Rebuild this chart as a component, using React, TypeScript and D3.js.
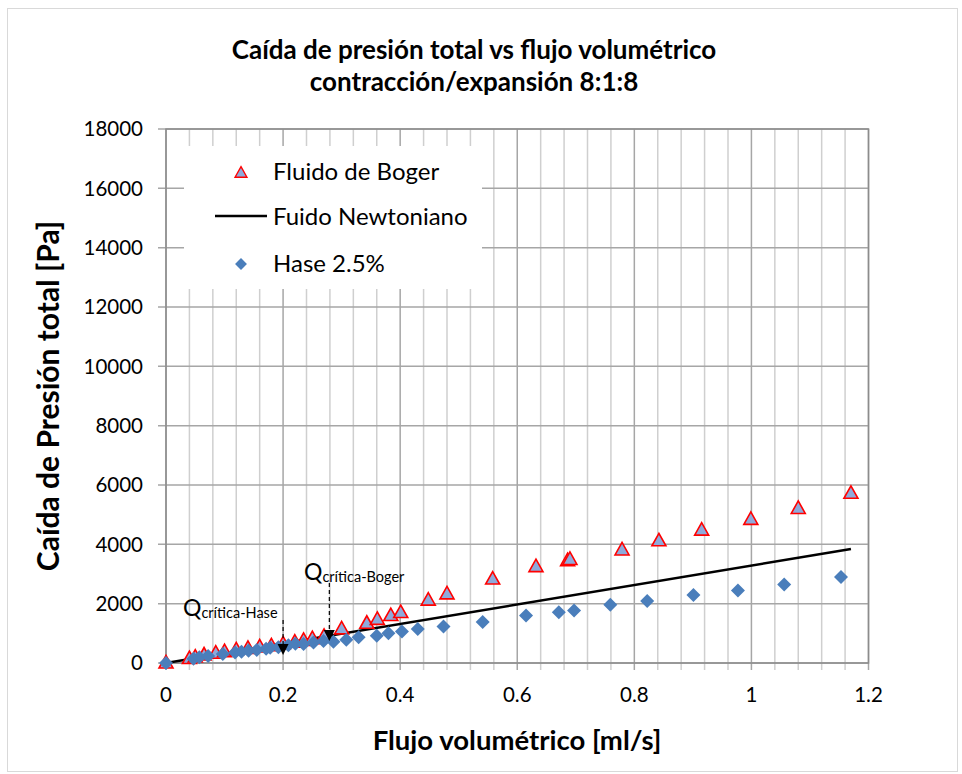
import * as d3 from "d3";

// data
const bogerX = [0, 0.04, 0.05, 0.065, 0.085, 0.1, 0.12, 0.14, 0.16, 0.18, 0.2, 0.22, 0.235, 0.25, 0.27, 0.3, 0.343, 0.361, 0.384, 0.401, 0.448, 0.48, 0.558, 0.632, 0.686, 0.69, 0.779, 0.842, 0.915, 0.999, 1.08, 1.17];
const bogerY = [0, 150, 200, 270, 330, 380, 440, 490, 540, 580, 640, 700, 760, 820, 900, 1150, 1340, 1470, 1600, 1700, 2120, 2330, 2830, 3250, 3450, 3490, 3810, 4120, 4480, 4840, 5210, 5720];

const haseX = [0, 0.047, 0.057, 0.072, 0.097, 0.118, 0.129, 0.141, 0.155, 0.171, 0.178, 0.192, 0.209, 0.221, 0.235, 0.252, 0.269, 0.286, 0.308, 0.329, 0.36, 0.38, 0.403, 0.43, 0.474, 0.541, 0.615, 0.671, 0.697, 0.759, 0.822, 0.901, 0.977, 1.056, 1.153];
const haseY = [0, 140, 190, 240, 300, 350, 380, 410, 440, 480, 510, 530, 600, 650, 640, 690, 740, 720, 780, 870, 920, 1000, 1060, 1150, 1230, 1380, 1600, 1710, 1770, 1960, 2090, 2290, 2440, 2650, 2900];

const newtonX = [0, 1.17];
const newtonY = [0, 3845];

const xTicks = [0, 0.2, 0.4, 0.6, 0.8, 1, 1.2];
const yTicks = [0, 2000, 4000, 6000, 8000, 10000, 12000, 14000, 16000, 18000];

const criticalQ = [
  { name: "Hase", x: 0.2 },
  { name: "Boger", x: 0.279 },
];

const FONT = "Lato, 'Open Sans', sans-serif";

// marker shapes, relative to the point
const TRI = "M0,-7.5L7,5L-7,5Z";
const DIA = "M0,-7L7,0L0,7L-7,0Z";

export default function App() {
  const W = 962;
  const H = 774;
  const m = { left: 166, right: 868.5, top: 129, bottom: 663 };

  const x = d3.scaleLinear().domain([0, 1.2]).range([m.left, m.right]);
  const y = d3.scaleLinear().domain([0, 18000]).range([m.bottom, m.top]);

  const minorX = d3.range(0, 31).map((i) => i * 0.04);

  const line = d3
    .line<number>()
    .x((_, i) => x(newtonX[i]))
    .y((d) => y(d));

  // legend box
  const lg = { x: 184, y: 146, w: 298, h: 143 };

  return (
    <svg
      width={W}
      height={H}
      style={{ position: "absolute", left: 0, top: 0, background: "#fff" }}
      fontFamily={FONT}
    >
      <rect x={7.5} y={8.5} width={950} height={763} fill="#fff" stroke="#d9d9d9" />

      {/* Title */}
      <text x={474} y={59} textAnchor="middle" fontSize={26} fontWeight="bold">
        Caída de presión total vs flujo volumétrico
      </text>
      <text x={474} y={91} textAnchor="middle" fontSize={26} fontWeight="bold">
        contracción/expansión 8:1:8
      </text>

      {/* Grid */}
      {minorX.map((v, i) => (
        <line
          key={"vx" + i}
          x1={x(v)}
          x2={x(v)}
          y1={m.top}
          y2={m.bottom + 7}
          stroke={i % 5 === 0 ? "#a6a6a6" : "#cfcfcf"}
          strokeWidth={1.5}
        />
      ))}
      {yTicks.map((t) => (
        <line
          key={"hy" + t}
          x1={m.left - 8}
          x2={m.right}
          y1={y(t)}
          y2={y(t)}
          stroke="#a6a6a6"
          strokeWidth={1.5}
        />
      ))}
      <rect
        x={m.left}
        y={m.top}
        width={m.right - m.left}
        height={m.bottom - m.top}
        fill="none"
        stroke="#8c8c8c"
        strokeWidth={1.5}
      />

      {/* Tick labels */}
      {yTicks.map((t) => (
        <text key={"yl" + t} x={143} y={y(t)} dy="0.35em" textAnchor="end" fontSize={20.5}>
          {t}
        </text>
      ))}
      {xTicks.map((t) => (
        <text key={"xl" + t} x={x(t)} y={695} dy="0.35em" textAnchor="middle" fontSize={20.5}>
          {t}
        </text>
      ))}

      {/* Axis titles */}
      <text
        transform={`translate(48,396) rotate(-90)`}
        textAnchor="middle"
        dy="0.35em"
        fontSize={30}
        fontWeight="bold"
      >
        Caída de Presión total [Pa]
      </text>
      <text x={517} y={740} dy="0.35em" textAnchor="middle" fontSize={27.5} fontWeight="bold">
        Flujo volumétrico [ml/s]
      </text>

      {/* Legend */}
      <rect x={lg.x} y={lg.y} width={lg.w} height={lg.h} fill="#fff" />
      <path d={TRI} transform="translate(241,173) scale(0.85)" fill="#8eaadb" stroke="#ff0000" strokeWidth={1.6} />
      <text x={273} y={172} dy="0.35em" fontSize={24}>Fluido de Boger</text>
      <line x1={215} x2={267} y1={216} y2={216} stroke="#000" strokeWidth={2.5} />
      <text x={273} y={217} dy="0.35em" fontSize={24}>Fuido Newtoniano</text>
      <path d={DIA} transform="translate(241,264) scale(0.85)" fill="#4a7ebb" />
      <text x={273} y={264} dy="0.35em" fontSize={24}>Hase 2.5%</text>

      {/* Newtonian line */}
      <path d={line(newtonY) ?? ""} fill="none" stroke="#000" strokeWidth={2.5} />

      {/* Boger */}
      {bogerX.map((v, i) => (
        <path
          key={"b" + i}
          d={TRI}
          transform={`translate(${x(v)},${y(bogerY[i])})`}
          fill="#8eaadb"
          stroke="#ff0000"
          strokeWidth={1.6}
        />
      ))}

      {/* Hase */}
      {haseX.map((v, i) => (
        <path
          key={"h" + i}
          d={DIA}
          transform={`translate(${x(v)},${y(haseY[i])})`}
          fill="#4a7ebb"
        />
      ))}

      {/* Critical flow annotations */}
      {criticalQ.map((c) => {
        const cx = x(c.x);
        const isHase = c.name === "Hase";
        const top = isHase ? 620 : 583;
        const tip = isHase ? 655 : 641;
        const tx = isHase ? 183 : 304;
        const ty = isHase ? 616 : 580;
        return (
          <g key={c.name}>
            <line x1={cx} x2={cx} y1={top} y2={tip - 9} stroke="#000" strokeWidth={1.2} strokeDasharray="4,3" />
            <path d={`M${cx - 5.5},${tip - 11}L${cx + 5.5},${tip - 11}L${cx},${tip}Z`} fill="#000" />
            <text x={tx} y={ty} fontSize={23}>
              Q<tspan fontSize={14.5} dy={2}>{"crítica-" + c.name}</tspan>
            </text>
          </g>
        );
      })}
    </svg>
  );
}
